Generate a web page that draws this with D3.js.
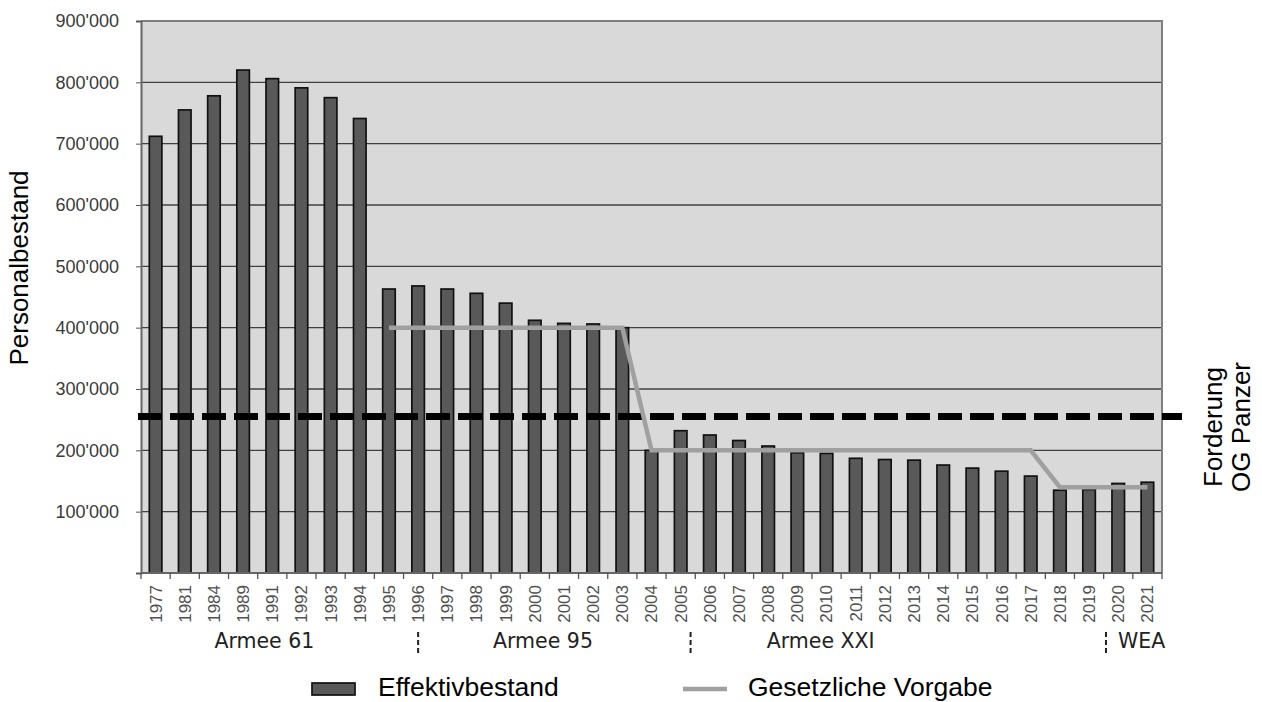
<!DOCTYPE html>
<html>
<head>
<meta charset="utf-8">
<script src="https://cdn.jsdelivr.net/npm/d3@7"></script>
<style>
  body { margin: 0; background: #fff; }
  svg { display: block; }
</style>
</head>
<body>
<div id="chart"></div>
<script>
// Personalbestand der Armee
const years = ["1977", "1981", "1984", "1989", "1991", "1992", "1993", "1994",
  "1995", "1996", "1997", "1998", "1999", "2000", "2001", "2002", "2003", "2004",
  "2005", "2006", "2007", "2008", "2009", "2010", "2011", "2012", "2013", "2014",
  "2015", "2016", "2017", "2018", "2019", "2020", "2021"];

const effektiv = [712000, 755000, 778000, 820000, 806000, 791000, 775000, 741000,
  463000, 468000, 463000, 456000, 440000, 412000, 407000, 406000, 400000, 200000,
  232000, 225000, 216000, 207000, 196000, 195000, 187000, 185000, 184000, 176000,
  171000, 166000, 158000, 135000, 136000, 146000, 148000];

// Gesetzliche Vorgabe (null = keine Vorgabe)
const vorgabe = [null, null, null, null, null, null, null, null,
  400000, 400000, 400000, 400000, 400000, 400000, 400000, 400000, 400000, 200000,
  200000, 200000, 200000, 200000, 200000, 200000, 200000, 200000, 200000, 200000,
  200000, 200000, 200000, 140000, 140000, 140000, 140000];

const forderung = 255000;

const yTicks = [100000, 200000, 300000, 400000, 500000, 600000, 700000, 800000, 900000];

const epochen = ["Armee 61", "Armee 95", "Armee XXI", "WEA"];

const W = 1262, H = 702;
const mLeft = 141, mRight = 1162, mTop = 21, mBottom = 573;
// label centres and separators, in category steps from the left edge
const epochPos = [4.23, 13.78, 23.3, 34.3];
const sepPos = [9.5, 18.84, 33.08];

const svg = d3.select("#chart").append("svg")
  .attr("width", W)
  .attr("height", H);

const x = d3.scaleBand()
  .domain(years)
  .range([mLeft, mRight])
  .paddingInner(0.57)
  .paddingOuter(0.285);

const y = d3.scaleLinear()
  .domain([0, 900000])
  .range([mBottom, mTop]);

const step = x.step();
const fmt = d => d3.format(",")(d).replace(/,/g, "'");

// plot background
svg.append("rect")
  .attr("x", mLeft)
  .attr("y", mTop)
  .attr("width", mRight - mLeft)
  .attr("height", mBottom - mTop)
  .attr("fill", "#d9d9d9");

// gridlines
svg.append("g")
  .selectAll("line")
  .data(yTicks.filter(d => d < 900000))
  .join("line")
  .attr("x1", mLeft)
  .attr("x2", mRight)
  .attr("y1", d => y(d))
  .attr("y2", d => y(d))
  .attr("stroke", "#404040")
  .attr("stroke-width", 1.3);

// frame top + right
svg.append("path")
  .attr("d", `M${mLeft},${mTop}H${mRight}V${mBottom}`)
  .attr("fill", "none")
  .attr("stroke", "#808080")
  .attr("stroke-width", 2);

// bars
svg.append("g")
  .selectAll("rect")
  .data(years)
  .join("rect")
  .attr("x", d => x(d))
  .attr("y", (d, i) => y(effektiv[i]))
  .attr("width", x.bandwidth())
  .attr("height", (d, i) => mBottom - y(effektiv[i]))
  .attr("fill", "#595959")
  .attr("stroke", "#111")
  .attr("stroke-width", 1.7);

// y axis
const yAxis = d3.axisLeft(y)
  .tickValues([0].concat(yTicks))
  .tickSize(5)
  .tickPadding(17)
  .tickFormat(d => d === 0 ? "" : fmt(d));

svg.append("g")
  .attr("transform", `translate(${mLeft},0)`)
  .call(yAxis)
  .call(g => g.select(".domain").attr("stroke", "#666").attr("stroke-width", 2))
  .call(g => g.selectAll(".tick line").attr("stroke", "#555"))
  .call(g => g.selectAll("text")
    .attr("fill", "#3a3a3a")
    .style("font", "18px 'Liberation Sans', Arial, sans-serif"));

// x axis line + boundary ticks
svg.append("line")
  .attr("x1", mLeft)
  .attr("x2", mRight)
  .attr("y1", mBottom)
  .attr("y2", mBottom)
  .attr("stroke", "#666")
  .attr("stroke-width", 2);

svg.append("g")
  .selectAll("line")
  .data(d3.range(years.length + 1))
  .join("line")
  .attr("x1", i => mLeft + i * step)
  .attr("x2", i => mLeft + i * step)
  .attr("y1", mBottom)
  .attr("y2", mBottom + 6)
  .attr("stroke", "#555")
  .attr("stroke-width", 1.3);

// year labels
svg.append("g")
  .selectAll("text")
  .data(years)
  .join("text")
  .attr("transform", d => `translate(${x(d) + x.bandwidth() / 2},585) rotate(-90)`)
  .attr("text-anchor", "end")
  .attr("dy", "0.35em")
  .attr("fill", "#505050")
  .style("font", "17px 'Liberation Sans', Arial, sans-serif")
  .text(d => d);

// epoch labels
svg.append("g")
  .selectAll("text")
  .data(epochen)
  .join("text")
  .attr("x", (d, i) => mLeft + epochPos[i] * step)
  .attr("y", 648)
  .attr("text-anchor", "middle")
  .attr("fill", "#222")
  .style("font", "20.5px 'DejaVu Sans', sans-serif")
  .text(d => d);

svg.append("g")
  .selectAll("line")
  .data(sepPos)
  .join("line")
  .attr("x1", d => mLeft + d * step)
  .attr("x2", d => mLeft + d * step)
  .attr("y1", 632)
  .attr("y2", 653)
  .attr("stroke", "#222")
  .attr("stroke-width", 2)
  .attr("stroke-dasharray", "5,3");

// Forderung OG Panzer
svg.append("line")
  .attr("x1", 138)
  .attr("x2", 1182)
  .attr("y1", y(forderung))
  .attr("y2", y(forderung))
  .attr("stroke", "#000")
  .attr("stroke-width", 7)
  .attr("stroke-dasharray", "24,8");

// Gesetzliche Vorgabe
const line = d3.line()
  .defined(d => d[1] !== null)
  .x(d => x(d[0]) + x.bandwidth() / 2)
  .y(d => y(d[1]));

svg.append("path")
  .datum(years.map((d, i) => [d, vorgabe[i]]))
  .attr("d", line)
  .attr("fill", "none")
  .attr("stroke", "#a0a0a0")
  .attr("stroke-width", 4.5);

// axis title
svg.append("text")
  .attr("transform", "translate(28,268) rotate(-90)")
  .attr("text-anchor", "middle")
  .attr("fill", "#000")
  .style("font", "26px 'Liberation Sans', Arial, sans-serif")
  .text("Personalbestand");

const rt = svg.append("text")
  .attr("transform", "translate(1222,427) rotate(-90)")
  .attr("text-anchor", "middle")
  .attr("fill", "#000")
  .style("font", "26px 'Liberation Sans', Arial, sans-serif");
rt.append("tspan").attr("x", 0).attr("y", 0).text("Forderung");
rt.append("tspan").attr("x", 0).attr("y", 28).text("OG Panzer");

// legend
const lg = svg.append("g").style("font", "26.5px 'Liberation Sans', Arial, sans-serif");
lg.append("rect")
  .attr("x", 312)
  .attr("y", 683)
  .attr("width", 43)
  .attr("height", 12)
  .attr("fill", "#595959")
  .attr("stroke", "#111")
  .attr("stroke-width", 1.7);
lg.append("text").attr("x", 378).attr("y", 696).text("Effektivbestand");
lg.append("line")
  .attr("x1", 683)
  .attr("x2", 727)
  .attr("y1", 689)
  .attr("y2", 689)
  .attr("stroke", "#a0a0a0")
  .attr("stroke-width", 4.5);
lg.append("text").attr("x", 748).attr("y", 696).text("Gesetzliche Vorgabe");
</script>
</body>
</html>
